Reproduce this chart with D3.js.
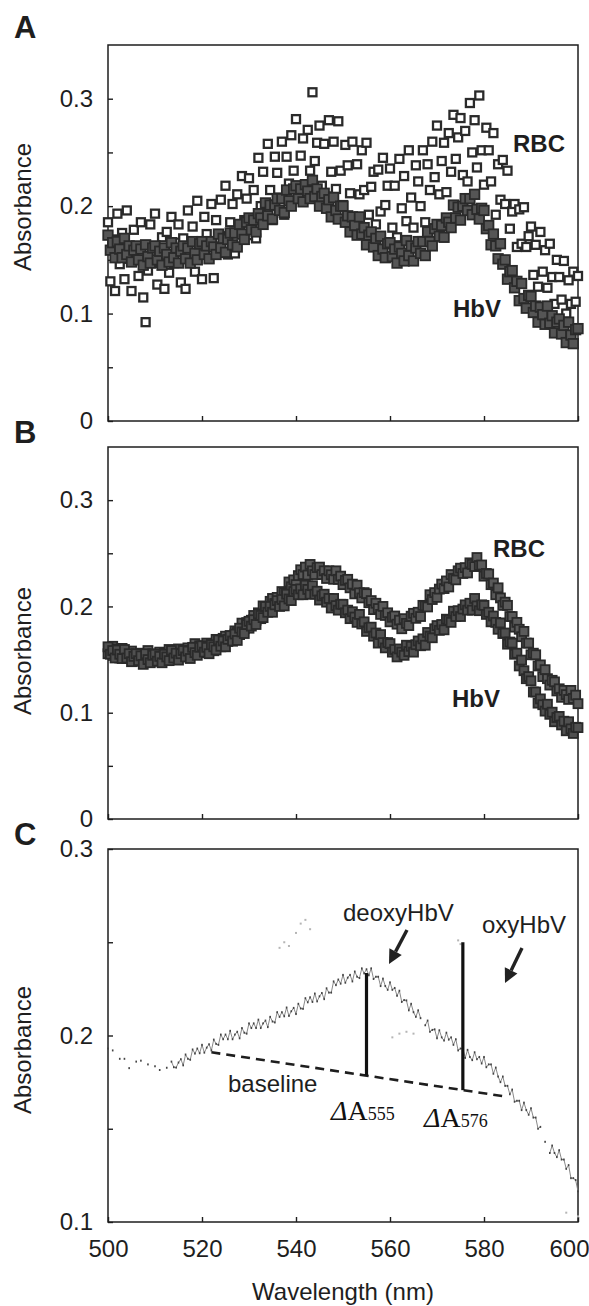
<!DOCTYPE html>
<html><head><meta charset="utf-8">
<script src="https://cdn.jsdelivr.net/npm/d3@7"></script>
<style>body{margin:0;background:#fff}svg{display:block}</style>
</head><body><svg id="chart" width="589" height="1306"></svg>
<script>
// ---------- data ----------
const wavelengths = [500,500.5,501,501.5,502,502.5,503,503.5,504,504.5,505,505.5,506,506.5,507,507.5,508,508.5,509,509.5,
510,510.5,511,511.5,512,512.5,513,513.5,514,514.5,515,515.5,516,516.5,517,517.5,518,518.5,519,519.5,
520,520.5,521,521.5,522,522.5,523,523.5,524,524.5,525,525.5,526,526.5,527,527.5,528,528.5,529,529.5,
530,530.5,531,531.5,532,532.5,533,533.5,534,534.5,535,535.5,536,536.5,537,537.5,538,538.5,539,539.5,
540,540.5,541,541.5,542,542.5,543,543.5,544,544.5,545,545.5,546,546.5,547,547.5,548,548.5,549,549.5,
550,550.5,551,551.5,552,552.5,553,553.5,554,554.5,555,555.5,556,556.5,557,557.5,558,558.5,559,559.5,
560,560.5,561,561.5,562,562.5,563,563.5,564,564.5,565,565.5,566,566.5,567,567.5,568,568.5,569,569.5,
570,570.5,571,571.5,572,572.5,573,573.5,574,574.5,575,575.5,576,576.5,577,577.5,578,578.5,579,579.5,
580,580.5,581,581.5,582,582.5,583,583.5,584,584.5,585,585.5,586,586.5,587,587.5,588,588.5,589,589.5,
590,590.5,591,591.5,592,592.5,593,593.5,594,594.5,595,595.5,596,596.5,597,597.5,598,598.5,599,599.5,600];

const rbcA = [.185,.130,.169,.121,.193,.146,.175,.132,.196,.151,
.121,.178,.160,.135,.185,.115,.092,.140,.183,.147,
.193,.127,.155,.171,.123,.176,.138,.190,.147,.166,
.183,.129,.170,.123,.196,.150,.181,.139,.205,.161,
.132,.190,.174,.151,.202,.133,.187,.161,.206,.172,
.219,.155,.185,.202,.156,.211,.175,.228,.187,.207,
.226,.173,.215,.170,.245,.200,.232,.191,.258,.215,
.187,.246,.231,.208,.260,.192,.246,.221,.266,.233,
.281,.217,.247,.263,.217,.271,.233,.306,.242,.259,
.275,.219,.258,.209,.280,.232,.260,.216,.279,.233,
.201,.257,.238,.212,.260,.189,.239,.211,.252,.215,
.259,.192,.218,.232,.183,.234,.195,.245,.201,.219,
.235,.180,.219,.171,.244,.198,.228,.186,.252,.208,
.180,.238,.223,.200,.252,.185,.239,.215,.260,.227,
.275,.211,.242,.259,.213,.268,.232,.285,.244,.264,
.282,.229,.270,.223,.296,.250,.280,.236,.303,.252,
.220,.273,.252,.223,.268,.192,.239,.206,.243,.202,
.233,.179,.195,.202,.162,.197,.165,.199,.162,.172,
.181,.136,.164,.125,.176,.139,.159,.124,.165,.134,
.109,.150,.134,.113,.149,.100,.131,.109,.139,.111,.135];

const hbvA = [.173,.159,.166,.152,.167,.160,.152,.170,.155,.163,
.148,.159,.163,.150,.160,.145,.164,.153,.147,.161,
.163,.150,.158,.145,.161,.155,.148,.166,.152,.161,
.147,.158,.163,.151,.161,.147,.167,.156,.150,.165,
.167,.155,.163,.151,.167,.162,.155,.174,.161,.170,
.157,.169,.175,.164,.175,.162,.183,.174,.169,.185,
.189,.178,.187,.176,.193,.189,.183,.203,.191,.201,
.188,.201,.207,.196,.207,.194,.215,.205,.200,.216,
.219,.207,.216,.204,.220,.214,.207,.224,.209,.216,
.200,.209,.212,.198,.206,.190,.208,.196,.188,.200,
.200,.185,.191,.176,.190,.182,.173,.190,.174,.180,
.164,.173,.176,.162,.170,.154,.172,.160,.152,.165,
.166,.153,.160,.147,.162,.156,.149,.168,.154,.163,
.149,.161,.167,.156,.167,.154,.176,.167,.163,.179,
.183,.172,.182,.171,.189,.185,.180,.201,.189,.199,
.187,.200,.207,.196,.207,.192,.211,.197,.188,.198,
.196,.179,.182,.164,.174,.163,.151,.165,.146,.150,
.132,.139,.140,.124,.130,.112,.128,.114,.105,.117,
.116,.101,.107,.092,.106,.099,.090,.107,.091,.098,
.082,.092,.095,.081,.089,.073,.092,.080,.072,.085,.086];

const rbcB = [.1555,.1605,.1625,.1555,.160,.1515,.1605,.1545,.151,.1575,
.158,.1513,.155,.1483,.156,.153,.1495,.1585,.1515,.1555,
.1485,.1543,.157,.1508,.156,.149,.1595,.1543,.1515,.1588,
.160,.154,.1585,.1525,.161,.1585,.1555,.165,.1585,.163,
.1565,.1625,.1655,.1595,.165,.1583,.169,.1643,.162,.170,
.172,.167,.1725,.1675,.177,.1755,.1735,.1843,.179,.1848,
.1795,.187,.1915,.187,.194,.1885,.2005,.197,.196,.2048,
.2075,.2028,.2085,.204,.214,.213,.2115,.223,.2185,.225,
.2205,.229,.2345,.230,.237,.2295,.2395,.2335,.230,.2365,
.237,.230,.2335,.2263,.2335,.2298,.2255,.2335,.2255,.2285,
.2205,.2245,.2255,.2175,.221,.2118,.220,.2128,.208,.213,
.212,.2035,.2055,.197,.203,.198,.1925,.200,.1915,.194,
.1855,.1898,.191,.1833,.187,.179,.1885,.184,.182,.1908,
.1935,.1888,.1945,.1905,.201,.2005,.1995,.211,.2065,.213,
.2085,.2163,.221,.2168,.224,.2183,.230,.2263,.225,.2335,
.236,.231,.2365,.2315,.241,.2395,.2375,.246,.2385,.239,
.2285,.231,.2305,.2205,.222,.211,.2175,.208,.201,.204,
.201,.1905,.1905,.1805,.185,.1785,.1715,.1765,.1655,.1655,
.1545,.156,.1545,.144,.145,.134,.1405,.132,.126,.1305,
.129,.1205,.1225,.1145,.121,.117,.1125,.121,.1135,.1165,.1085];

const hbvB = [.162,.155,.1585,.1515,.159,.155,.151,.1595,.1515,.1555,
.148,.153,.1555,.149,.1535,.1455,.1555,.150,.147,.154,
.155,.1485,.153,.147,.155,.1525,.149,.1585,.1515,.156,
.1495,.1555,.1585,.1525,.158,.151,.1615,.1565,.154,.1615,
.163,.157,.1615,.1555,.164,.162,.159,.1685,.1625,.1675,
.162,.169,.1725,.1675,.174,.168,.1795,.176,.1745,.183,
.186,.1815,.1875,.183,.193,.1915,.1895,.200,.1945,.200,
.1945,.2015,.2055,.200,.2065,.2005,.2115,.207,.2055,.214,
.216,.211,.2165,.211,.220,.216,.2115,.2195,.2115,.2143,
.206,.210,.2115,.204,.2075,.1985,.2075,.2008,.1965,.202,
.202,.194,.1965,.1885,.195,.190,.185,.1925,.1835,.1855,
.1765,.180,.1805,.172,.175,.1655,.1735,.166,.161,.166,
.165,.157,.1595,.1525,.160,.157,.154,.1635,.1575,.1625,
.157,.164,.1675,.163,.1695,.1635,.1755,.172,.1705,.179,
.182,.1775,.183,.178,.188,.187,.185,.1955,.1905,.196,
.1905,.1975,.2015,.1965,.203,.1965,.2075,.2005,.196,.2015,
.201,.1925,.1945,.1855,.191,.185,.1785,.1845,.1745,.175,
.1645,.1665,.1655,.155,.156,.144,.1495,.1395,.132,.134,
.130,.1195,.1195,.109,.113,.1075,.1015,.108,.0985,.1005,
.0915,.0955,.0965,.0885,.092,.083,.0915,.0848,.0805,.0863,.086];

const deoxyC = [.193,null,.192,null,null,.1875,null,.1875,null,.1825,
null,null,.186,null,.1865,null,null,.1845,null,null,
.1835,null,.1815,null,null,.1827,null,.186,.183,.1828,
.1855,.1873,.184,.1898,.1875,.187,.1925,.1903,.193,.1905,
.195,.1908,.1935,.1953,.192,.1978,.1955,.195,.2005,.198,
.2005,.198,.2025,.198,.2005,.202,.1985,.204,.2015,.201,
.2065,.204,.2065,.204,.2085,.204,.2065,.208,.2045,.210,
.2075,.207,.2125,.210,.2125,.2103,.215,.2105,.213,.2148,
.2115,.217,.2145,.2143,.220,.2178,.2205,.218,.2225,.2183,
.221,.2228,.2195,.2253,.223,.223,.229,.227,.230,.2278,
.2325,.2283,.231,.2325,.229,.2343,.2315,.2308,.236,.2333,
.2355,.2323,.236,.2303,.2315,.2315,.2265,.2305,.2265,.2245,
.2285,.2245,.2255,.2213,.224,.218,.219,.2188,.2135,.217,
.2125,.210,.2135,.2093,null,.2055,.208,.202,.203,.2033,
.1985,.2028,.199,.1973,.2015,.1978,.199,.195,.198,.192,
.193,.193,.188,.1923,.1885,.1868,.191,.1873,.1885,.185,
.1885,.183,.1845,.1845,.1795,.1828,.178,.175,.178,.173,
.173,.1685,.171,.1645,.165,.165,.160,.164,.160,.1575,
.161,.156,.156,.150,.151,null,.143,null,.137,.141,
.137,.1348,.1385,.1335,.1335,.1285,.1305,.1235,.1235,.1225,.1165];

const oxyW = [536.5,537.5,538.5,540,541,542,543,560.5,562,563.5,565,574.5,575,597.5,600];
const oxyA = [.247,.250,.248,.255,.260,.262,.257,.199,.201,.202,.201,.251,.249,.105,.103];

const baselineW = [522, 584];
const baselineA = [0.191, 0.1675];
const deltaW = [555, 575.5];
const deltaTop = [0.2335, 0.250];
const deltaBottom = [0.1785, 0.1707];
const deltaSub = ["555", "576"];

const xTicks = [500, 520, 540, 560, 580, 600];
const yTicksAB = [0, 0.05, 0.1, 0.15, 0.2, 0.25, 0.3];
const yTicksC = [0.1, 0.15, 0.2, 0.25, 0.3];

// ---------- drawing ----------
const svg = d3.select("#chart");
svg.append("rect").attr("width", 589).attr("height", 1306).attr("fill", "#fff");
const SANS = "Arial, 'Liberation Sans', Helvetica, sans-serif";
const SERIF = "'Times New Roman', 'Liberation Serif', serif";
const INK = "#1e1e1e";

const x = d3.scaleLinear().domain([500, 600]).range([108, 578]);
const yA = d3.scaleLinear().domain([0, 0.35]).range([421, 45]);
const yB = d3.scaleLinear().domain([0, 0.35]).range([819, 447]);
const yC = d3.scaleLinear().domain([0.1, 0.3]).range([1222, 849]);

const fmt = d => (Math.round(d * 100) % 10 === 0) ? (d === 0 ? "0" : d.toFixed(1)) : "";

function frame(y, yTicks, showX, letter, letterY, labelCY) {
  const g = svg.append("g");
  const ya = g.append("g").attr("transform", `translate(${x.range()[0]},0)`)
    .call(d3.axisLeft(y).tickValues(yTicks).tickSize(-5).tickPadding(15).tickFormat(fmt));
  ya.select(".domain").remove();
  ya.attr("font-size", null).attr("font-family", null);
  ya.selectAll("line").attr("stroke", INK).attr("stroke-width", 1.4);
  ya.selectAll("text").attr("font-family", SANS).attr("font-size", 24).attr("fill", INK);

  const xa = g.append("g").attr("transform", `translate(0,${y.range()[0]})`)
    .call(d3.axisBottom(x).tickValues(xTicks).tickSize(-5).tickPadding(18)
      .tickFormat(showX ? d3.format("d") : () => ""));
  xa.select(".domain").remove();
  xa.attr("font-size", null).attr("font-family", null);
  xa.selectAll("line").attr("stroke", INK).attr("stroke-width", 1.4);
  xa.selectAll("text").attr("font-family", SANS).attr("font-size", 24).attr("fill", INK)
    .attr("dx", d => d === 600 ? -9 : 0);

  g.append("rect").attr("x", x.range()[0]).attr("y", y.range()[1])
    .attr("width", x.range()[1] - x.range()[0]).attr("height", y.range()[0] - y.range()[1])
    .attr("fill", "none").attr("stroke", INK).attr("stroke-width", 1.5);

  g.append("text").attr("transform", `translate(31,${labelCY}) rotate(-90)`)
    .attr("text-anchor", "middle").attr("font-family", SANS).attr("font-size", 24)
    .attr("fill", INK).text("Absorbance");

  g.append("text").attr("x", 14).attr("y", letterY).attr("font-family", SANS)
    .attr("font-weight", "bold").attr("font-size", 31).attr("fill", INK).text(letter);
}

function squares(y, vals, fill, s, sw) {
  svg.append("g").selectAll("rect").data(wavelengths.map((w, i) => [w, vals[i]]))
    .join("rect")
    .attr("x", d => x(d[0]) - s / 2).attr("y", d => y(d[1]) - s / 2)
    .attr("width", s).attr("height", s)
    .attr("fill", fill).attr("stroke", "#2a2a2a").attr("stroke-width", sw);
}

function label(txt, px, py) {
  svg.append("text").attr("x", px).attr("y", py).attr("font-family", SANS)
    .attr("font-weight", "bold").attr("font-size", 24).attr("fill", INK).text(txt);
}

// Panel A
frame(yA, yTicksAB, false, "A", 38, 207);
squares(yA, rbcA, "#fff", 8, 2.3);
squares(yA, hbvA, "#555", 9.5, 1.8);
label("RBC", 513, 152);
label("HbV", 453, 317);

// Panel B
frame(yB, yTicksAB, false, "B", 443, 651);
squares(yB, rbcB, "#5a5a5a", 9, 1.8);
squares(yB, hbvB, "#505050", 9, 1.8);
label("RBC", 493, 557);
label("HbV", 452, 707);

// Panel C
frame(yC, yTicksC, true, "C", 845, 1050);

const oxyPts = oxyW.map((w, i) => [w, oxyA[i]]);
svg.append("g").selectAll("rect").data(oxyPts).join("rect")
  .attr("x", d => x(d[0]) - 1).attr("y", d => yC(d[1]) - 1)
  .attr("width", 2).attr("height", 2).attr("fill", "#b5b5b5");

const cPts = wavelengths.map((w, i) => [w, deoxyC[i]]);
svg.append("path").datum(cPts)
  .attr("d", d3.line().defined(d => d[1] !== null).x(d => x(d[0])).y(d => yC(d[1])))
  .attr("fill", "none").attr("stroke", "#7a7a7a").attr("stroke-width", 0.9);
svg.append("g").selectAll("rect").data(cPts.filter(d => d[1] !== null)).join("rect")
  .attr("x", d => x(d[0]) - 0.8).attr("y", d => yC(d[1]) - 1)
  .attr("width", 1.6).attr("height", 2).attr("fill", "#444");

// baseline (dashed)
svg.append("line")
  .attr("x1", x(baselineW[0])).attr("y1", yC(baselineA[0]))
  .attr("x2", x(baselineW[1])).attr("y2", yC(baselineA[1]))
  .attr("stroke", INK).attr("stroke-width", 2.6).attr("stroke-dasharray", "9,6");

// ΔA vertical bars
deltaW.forEach((w, i) => {
  svg.append("line").attr("x1", x(w)).attr("x2", x(w))
    .attr("y1", yC(deltaTop[i])).attr("y2", yC(deltaBottom[i]))
    .attr("stroke", "#111").attr("stroke-width", 3.2);
});

// arrows
function arrow(x1, y1, x2, y2) {
  const a = Math.atan2(y2 - y1, x2 - x1), L = 14, W = 7;
  const bx = x2 - L * Math.cos(a), by = y2 - L * Math.sin(a);
  svg.append("line").attr("x1", x1).attr("y1", y1).attr("x2", bx).attr("y2", by)
    .attr("stroke", "#222").attr("stroke-width", 3.4);
  svg.append("path").attr("d", `M${x2},${y2}L${bx + W * Math.sin(a)},${by - W * Math.cos(a)}L${bx - W * Math.sin(a)},${by + W * Math.cos(a)}Z`)
    .attr("fill", "#222");
}
arrow(407, 930, 389, 964);
arrow(522, 948, 505, 983);

function plain(txt, px, py) {
  svg.append("text").attr("x", px).attr("y", py).attr("font-family", SANS)
    .attr("font-size", 24).attr("fill", INK).text(txt);
}
plain("deoxyHbV", 343, 921);
plain("oxyHbV", 482, 933);
plain("baseline", 228, 1092);

function deltaLabel(px, py, sub) {
  const t = svg.append("text").attr("x", px).attr("y", py).attr("font-family", SERIF).attr("fill", "#111");
  t.append("tspan").attr("font-size", 28).attr("font-style", "italic").text("Δ");
  t.append("tspan").attr("font-size", 28).text("A");
  t.append("tspan").attr("font-size", 18).text(sub);
}
deltaLabel(331, 1120, deltaSub[0]);
deltaLabel(424, 1127, deltaSub[1]);

svg.append("text").attr("x", 343).attr("y", 1300).attr("text-anchor", "middle")
  .attr("font-family", SANS).attr("font-size", 24).attr("fill", INK).text("Wavelength (nm)");
</script></body></html>
